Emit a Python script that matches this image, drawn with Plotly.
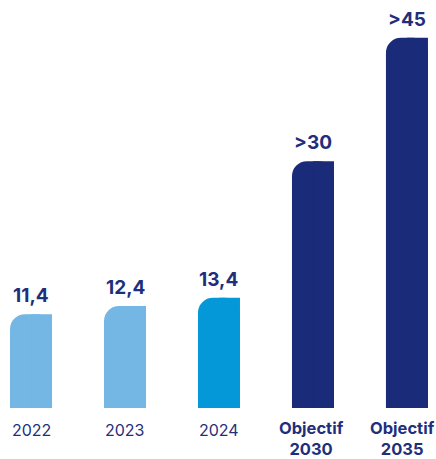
import plotly.graph_objects as go

categories = ["2022", "2023", "2024", "Objectif 2030", "Objectif 2035"]
tick_labels = ["2022", "2023", "2024", "<b>Objectif</b><br><b>2030</b>", "<b>Objectif</b><br><b>2035</b>"]
values = [11.4, 12.4, 13.4, 30, 45]
value_labels = ["11,4", "12,4", "13,4", ">30", ">45"]
colors = ["#74b6e4", "#74b6e4", "#0598d8", "#1a2b7a", "#1a2b7a"]

NAVY = "#1f2f7c"
FONT = "Inter"
xs = list(range(len(categories)))
W = 0.447

fig = go.Figure()
# rounded bar (both top corners rounded)
fig.add_trace(go.Bar(x=xs, y=values, width=[W] * 5, offset=[-W / 2] * 5,
                     marker=dict(color=colors, line=dict(width=0), cornerradius=15),
                     hoverinfo="skip", showlegend=False))
# square right half -> only top-left corner rounded
fig.add_trace(go.Bar(x=xs, y=values, width=[W / 2] * 5, offset=[0] * 5,
                     marker=dict(color=colors, line=dict(width=0)),
                     hoverinfo="skip", showlegend=False))

for x, v, t in zip(xs, values, value_labels):
    fig.add_annotation(x=x, y=v, text=f"<b>{t}</b>", showarrow=False,
                       yanchor="bottom", yshift=5,
                       font=dict(family=FONT, size=19, color=NAVY))

# category labels below bars
for i, (x, lab) in enumerate(zip(xs, tick_labels)):
    bold = lab.startswith("<b>")
    fig.add_annotation(x=x, y=0, text=lab, showarrow=False,
                       yanchor="top", yshift=-8 if bold else -10,
                       xshift=-4 if i == len(xs) - 1 else -1 if bold else 0,
                       font=dict(family=FONT, size=16.5 if bold else 16, color=NAVY))

fig.update_layout(
    width=436, height=459,
    margin=dict(l=0, r=0, t=0, b=51, autoexpand=False),
    barmode="overlay",
    plot_bgcolor="white", paper_bgcolor="white",
    xaxis=dict(range=[-0.33, 4.309], showgrid=False, zeroline=False,
               showline=False, ticks="", showticklabels=False),
    yaxis=dict(range=[0, 49.6], visible=False, showgrid=False, zeroline=False),
)

fig.write_html("out.html", config={"displayModeBar": False},
               post_script="document.body.style.margin='0';document.body.style.padding='0';")
